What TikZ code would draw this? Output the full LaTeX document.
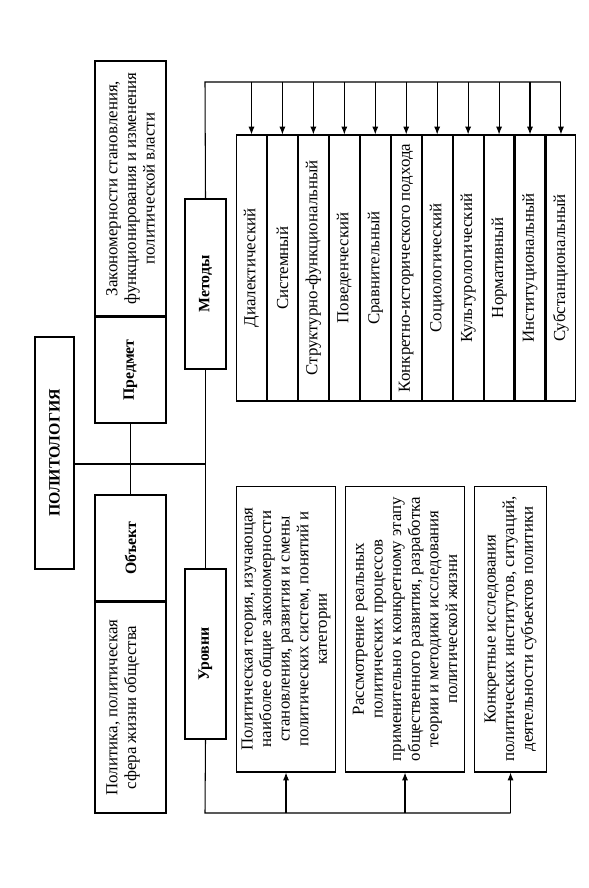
\documentclass[tikz,border=0pt]{standalone}
\usepackage{fontspec}
\setmainfont{Liberation Serif}
\usetikzlibrary{arrows.meta,positioning}

\begin{document}
\begin{tikzpicture}[x=0.02cm, y=-0.02cm,
  font=\fontsize{9.6}{10.6}\selectfont,
  box/.style={draw, line width=0.6pt, rotate=90, align=center, inner sep=1pt},
  head/.style={box, font=\fontsize{9}{11}\selectfont\bfseries},
  meth/.style={box, minimum width=5.32cm, minimum height=0.598cm, anchor=north},
  lev/.style={box, minimum width=5.72cm, anchor=north},
  link/.style={line width=0.6pt},
  arr/.style={-{Latex[length=4.5pt,width=3.5pt]}, line width=0.6pt}]
  \useasboundingbox (0,0) rectangle (588,888);
  \node[head, minimum width=4.64cm, minimum height=0.78cm] (polit) at (54.5,453) {ПОЛИТОЛОГИЯ};
  \node[box, minimum width=5.1cm, minimum height=1.42cm] (zakon) at (130.5,188.5) {Закономерности становления,\\ функционирования и изменения\\ политической власти};
  \node[head, minimum width=2.12cm, minimum height=1.42cm, anchor=east] (predmet) at (zakon.west) {Предмет};
  \node[head, minimum width=2.12cm, minimum height=1.42cm] (obekt) at (130.5,548) {Объект};
  \node[box, minimum width=4.22cm, minimum height=1.42cm, anchor=east] (politika) at (obekt.west) {Политика, политическая\\ сфера жизни общества\\ \mbox{}};
  \node[head, minimum width=3.4cm, minimum height=0.82cm] (metody) at (205.5,284) {Методы};
  \node[head, minimum width=3.4cm, minimum height=0.82cm] (urovni) at (205.5,654) {Уровни};
  % methods
  \node[meth] (m1) at (236,268) {Диалектический};
  \node[meth] (m2) at (m1.south) {Системный};
  \node[meth] (m3) at (m2.south) {Структурно-функциональный};
  \node[meth] (m4) at (m3.south) {Поведенческий};
  \node[meth] (m5) at (m4.south) {Сравнительный};
  \node[meth] (m6) at (m5.south) {Конкретно-исторического подхода};
  \node[meth] (m7) at (m6.south) {Социологический};
  \node[meth] (m8) at (m7.south) {Культурологический};
  \node[meth] (m9) at (m8.south) {Нормативный};
  \node[meth] (m10) at (m9.south) {Институциональный};
  \node[meth] (m11) at (m10.south) {Субстанциональный};
  % levels
  \node[lev, minimum height=1.98cm] (l1) at (236,629) {Политическая теория, изучающая\\ наиболее общие закономерности\\ становления, развития и смены\\ политических систем, понятий и\\ категории};
  \node[lev, minimum height=2.38cm] (l2) at (345,629) {Рассмотрение реальных\\ политических процессов\\ применительно к конкретному этапу\\ общественного развития, разработка\\ теории и методики исследования\\ политической жизни};
  \node[lev, minimum height=1.44cm] (l3) at (474,629) {Конкретные исследования\\ политических институтов, ситуаций,\\ деятельности субъектов политики};
  \coordinate (hub) at (205,464);
  \coordinate (mbar) at (205,82);
  \coordinate (lbar) at (205,813);
  \draw[link] (polit.south |- hub) -- (hub);
  \draw[link] (predmet.west) -- (obekt.east);
  \draw[link] (metody.west) -- (urovni.east);
  \draw[link] (metody.east) -- (mbar) -- (mbar -| m11.east);
  \draw[arr] (mbar -| m1.east) -- (m1.east);
  \draw[arr] (mbar -| m2.east) -- (m2.east);
  \draw[arr] (mbar -| m3.east) -- (m3.east);
  \draw[arr] (mbar -| m4.east) -- (m4.east);
  \draw[arr] (mbar -| m5.east) -- (m5.east);
  \draw[arr] (mbar -| m6.east) -- (m6.east);
  \draw[arr] (mbar -| m7.east) -- (m7.east);
  \draw[arr] (mbar -| m8.east) -- (m8.east);
  \draw[arr] (mbar -| m9.east) -- (m9.east);
  \draw[arr] (mbar -| m10.east) -- (m10.east);
  \draw[arr] (mbar -| m11.east) -- (m11.east);
  \draw[link] (urovni.west) -- (lbar) -- (lbar -| l3.west);
  \draw[arr] (lbar -| l1.west) -- (l1.west);
  \draw[arr] (lbar -| l2.west) -- (l2.west);
  \draw[arr] (lbar -| l3.west) -- (l3.west);
\end{tikzpicture}
\end{document}
